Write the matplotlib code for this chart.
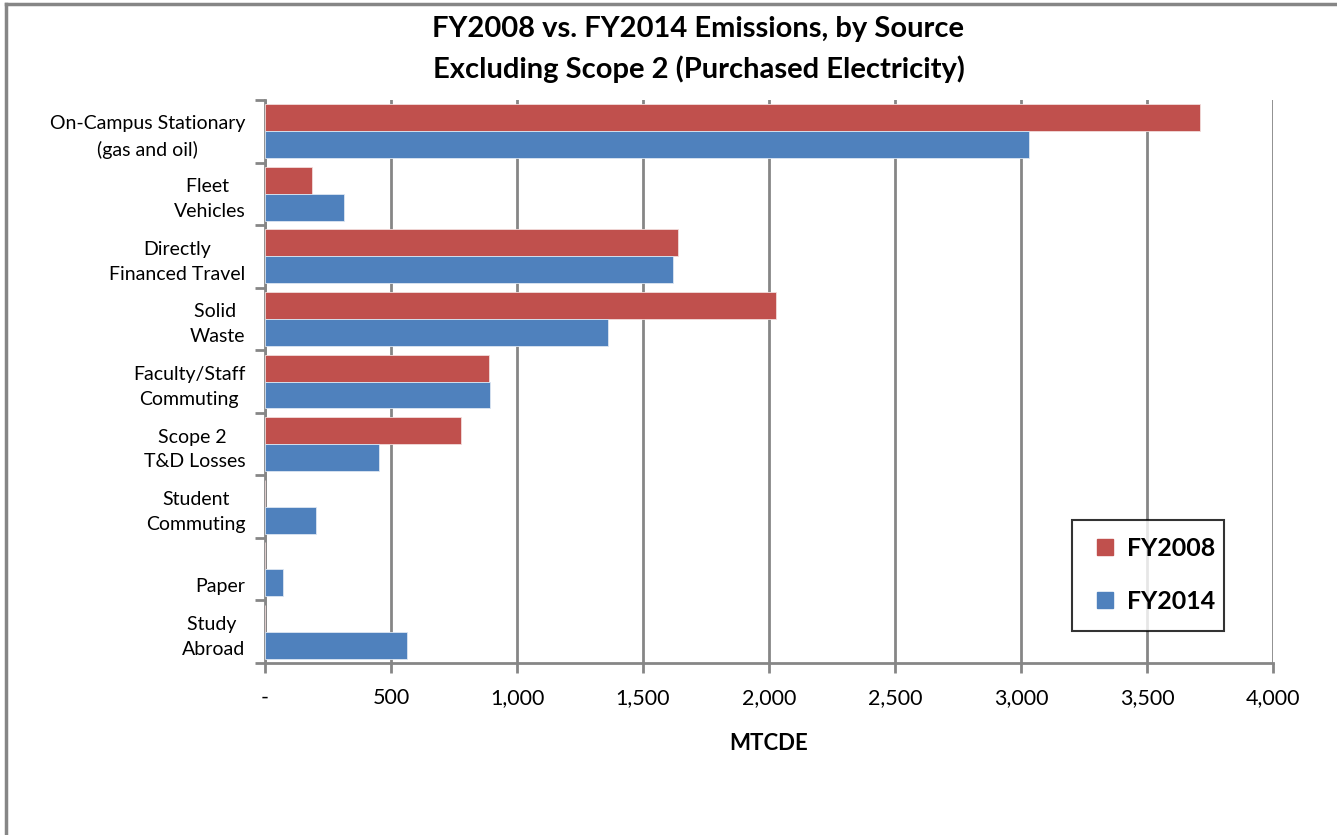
import numpy as np
import matplotlib.pyplot as plt
from matplotlib.lines import Line2D
from matplotlib.ticker import FuncFormatter

plt.rcParams['font.family'] = ['Lato', 'DejaVu Sans']

sources = ['On-Campus Stationary\n(gas and oil)', 'Fleet \nVehicles', 'Directly\nFinanced Travel',
           'Solid \nWaste', 'Faculty/Staff\nCommuting', 'Scope 2 \nT&D Losses',
           'Student\nCommuting', '\nPaper', 'Study \nAbroad']
fy2008 = [3710, 185, 1639, 2028, 889, 778, 0, 0, 0]
fy2014 = [3032, 313, 1619, 1361, 893, 454, 204, 70, 563]

red = '#C0504D'
blue = '#4F81BD'
axis_grey = '#868686'

fig = plt.figure(figsize=(13.37, 8.35), dpi=100)
ax = fig.add_axes([265/1337, 1 - 663/835, (1273-265)/1337, (663-100)/835])

y = np.arange(len(sources))
h = 0.43
ax.barh(y - 0.215, fy2008, height=h, color=red, edgecolor='#f2dcdb', linewidth=0.6, label='FY2008', zorder=3)
ax.barh(y + 0.215, fy2014, height=h, color=blue, edgecolor='#dce6f2', linewidth=0.6, label='FY2014', zorder=3)

ax.set_ylim(len(sources) - 0.5, -0.5)
ax.set_xlim(0, 4000)
ax.set_xticks(np.arange(0, 4001, 500))
ax.xaxis.set_major_formatter(FuncFormatter(lambda v, p: '-' if v == 0 else f'{v:,.0f}'))

# category labels sit between the boundary tick marks
ax.set_yticks(np.arange(-0.5, len(sources)), minor=False)
ax.set_yticklabels([])
ax.set_yticks(y, minor=True)
ax.set_yticklabels(sources, minor=True, fontsize=14, multialignment='center', linespacing=1.55)
ax.tick_params(axis='y', which='minor', length=0, pad=14)
ax.tick_params(axis='y', which='major', length=7, width=2, color=axis_grey, direction='out')
ax.tick_params(axis='x', length=7, width=2, color=axis_grey, labelsize=15.5, pad=11)

ax.grid(axis='x', color=axis_grey, linewidth=2, zorder=0)
for side in ['top', 'right']:
    ax.spines[side].set_visible(False)
for side in ['left', 'bottom']:
    ax.spines[side].set_color(axis_grey)
    ax.spines[side].set_linewidth(2)

ax.set_xlabel('MTCDE', fontsize=16, fontweight='bold', labelpad=18)
fig.text(0.5 + 30/1337, 1 - 29/835, 'FY2008 vs. FY2014 Emissions, by Source', ha='center', va='center',
         fontsize=21, fontweight='bold')
fig.text(0.5 + 30/1337, 1 - 69/835, 'Excluding Scope 2 (Purchased Electricity)', ha='center', va='center',
         fontsize=21, fontweight='bold')

handles = [Line2D([], [], marker='s', linestyle='', markersize=12, color=red),
           Line2D([], [], marker='s', linestyle='', markersize=12, color=blue)]
leg = ax.legend(handles, ['FY2008', 'FY2014'], loc='center',
                bbox_to_anchor=((1072-265)/1008, (663-630)/563, (1224-1072)/1008, (630-520)/563),
                mode='expand', prop={'size': 18, 'weight': 'bold'}, frameon=True, fancybox=False,
                borderpad=0.7, labelspacing=1.2, handletextpad=0.3, handlelength=1.2, borderaxespad=0)
leg.get_frame().set_edgecolor('black')
leg.get_frame().set_linewidth(1.5)

# chart area border (top and left edges)
fig.add_artist(Line2D([6/1337, 6/1337], [0, 1 - 4/835], color=axis_grey, linewidth=2.5))
fig.add_artist(Line2D([6/1337, 1], [1 - 4/835, 1 - 4/835], color=axis_grey, linewidth=2.5))

fig.savefig('out.png', dpi=100)
